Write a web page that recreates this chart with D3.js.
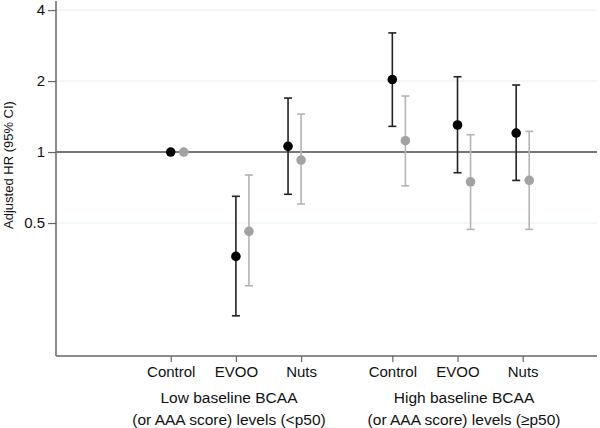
<!DOCTYPE html>
<html>
<head>
<meta charset="utf-8">
<script src="https://cdn.jsdelivr.net/npm/d3@7"></script>
<style>
  html, body { margin: 0; padding: 0; background: #fff; }
  svg { display: block; font-family: "Liberation Sans", Arial, Helvetica, sans-serif; }
</style>
</head>
<body>
<svg id="chart" width="600" height="428"></svg>
<script>
// ---- Data ----
const categories = ["Control", "EVOO", "Nuts", "Control", "EVOO", "Nuts"];
const tickPositions = [1, 2, 3, 4.4, 5.4, 6.4];
const groupLabels = [
  ["Low baseline BCAA", "(or AAA score) levels (<p50)"],
  ["High baseline BCAA", "(or AAA score) levels (\u2265p50)"]
];
const groupCenters = [1.894, 5.5];

// black series (BCAA)
const blackPos = [1.0, 2.0, 2.8, 4.4, 5.4, 6.3];
const blackHR  = [1.0, 0.361, 1.057, 2.03, 1.302, 1.204];
const blackLo  = [null, 0.202, 0.662, 1.285, 0.817, 0.758];
const blackHi  = [null, 0.649, 1.694, 3.20, 2.086, 1.924];

// gray series (AAA score)
const grayPos = [1.2, 2.2, 3.0, 4.6, 5.6, 6.5];
const grayHR  = [1.0, 0.461, 0.925, 1.117, 0.748, 0.758];
const grayLo  = [null, 0.271, 0.602, 0.719, 0.470, 0.470];
const grayHi  = [null, 0.799, 1.449, 1.728, 1.184, 1.224];

const yTicks = [0.5, 1, 2, 4];
const yTickLabels = ["0.5", "1", "2", "4"];
const gridValues = [0.5, 2, 4];
const refValue = 1;

// ---- Layout ----
const svg = d3.select("#chart");
const pLeft = 56, pRight = 597, pTop = 1, pBottom = 356;

const x = d3.scaleLinear().domain([-0.76, 7.54]).range([pLeft, pRight]);
const y = d3.scaleLog().base(2).domain([0.1365, 4.37]).range([pBottom, pTop]);

// gridlines
svg.append("g").selectAll("line").data(gridValues).join("line")
  .attr("x1", pLeft).attr("x2", pRight)
  .attr("y1", d => y(d)).attr("y2", d => y(d))
  .attr("stroke", "#e6f0f1").attr("stroke-width", 1);

// reference line at 1
svg.append("line")
  .attr("x1", pLeft).attr("x2", pRight)
  .attr("y1", y(refValue)).attr("y2", y(refValue))
  .attr("stroke", "#4a4a4a").attr("stroke-width", 1.6);

// y axis
const yAxis = d3.axisLeft(y).tickValues(yTicks)
  .tickFormat((d, i) => yTickLabels[i]).tickSize(8).tickPadding(3);
const gy = svg.append("g").attr("transform", `translate(${pLeft},0)`).call(yAxis);
gy.select(".domain").attr("stroke", "#666").attr("stroke-width", 1.5)
  .attr("d", `M0,${pTop}V${pBottom}`);
gy.selectAll(".tick line").attr("stroke", "#666").attr("stroke-width", 1.2);
gy.selectAll(".tick text").attr("font-size", 15).attr("fill", "#111")
  .attr("font-family", "Liberation Sans, Arial, sans-serif");

// x axis
const xAxis = d3.axisBottom(x).tickValues(tickPositions)
  .tickFormat((d, i) => categories[i]).tickSize(6).tickPadding(4);
const gx = svg.append("g").attr("transform", `translate(0,${pBottom})`).call(xAxis);
gx.select(".domain").attr("stroke", "#666").attr("stroke-width", 1.5)
  .attr("d", `M${pLeft},0H${pRight}`);
gx.selectAll(".tick line").attr("stroke", "#666").attr("stroke-width", 1.2);
gx.selectAll(".tick text").attr("font-size", 15).attr("fill", "#111")
  .attr("font-family", "Liberation Sans, Arial, sans-serif");

// group labels
groupLabels.forEach((lines, gi) => {
  lines.forEach((t, li) => {
    svg.append("text")
      .attr("x", x(groupCenters[gi]))
      .attr("y", 403 + li * 22)
      .attr("text-anchor", "middle")
      .attr("font-size", 15.5).attr("fill", "#111")
      .text(t);
  });
});

// y label
svg.append("text")
  .attr("transform", `translate(13,${(100 + 230) / 2}) rotate(-90)`)
  .attr("text-anchor", "middle")
  .attr("font-size", 13).attr("fill", "#111")
  .text("Adjusted HR (95% CI)");

// series drawing
function drawSeries(pos, hr, lo, hi, color, barColor) {
  const data = pos.map((p, i) => ({ p, hr: hr[i], lo: lo[i], hi: hi[i] }));
  const g = svg.append("g");
  const withCI = data.filter(d => d.lo != null);
  g.selectAll("line.v").data(withCI).join("line")
    .attr("class", "v")
    .attr("x1", d => x(d.p)).attr("x2", d => x(d.p))
    .attr("y1", d => y(d.lo)).attr("y2", d => y(d.hi))
    .attr("stroke", barColor).attr("stroke-width", 1.6);
  ["lo", "hi"].forEach(k => {
    g.selectAll("line.c" + k).data(withCI).join("line")
      .attr("class", "c" + k)
      .attr("x1", d => x(d.p) - 4).attr("x2", d => x(d.p) + 4)
      .attr("y1", d => y(d[k])).attr("y2", d => y(d[k]))
      .attr("stroke", barColor).attr("stroke-width", 1.6);
  });
  g.selectAll("circle").data(data).join("circle")
    .attr("cx", d => x(d.p)).attr("cy", d => y(d.hr))
    .attr("r", 4.8).attr("fill", color);
}
drawSeries(blackPos, blackHR, blackLo, blackHi, "#000", "#222");
drawSeries(grayPos, grayHR, grayLo, grayHi, "#a2a2a2", "#b4b4b4");
</script>
</body>
</html>
